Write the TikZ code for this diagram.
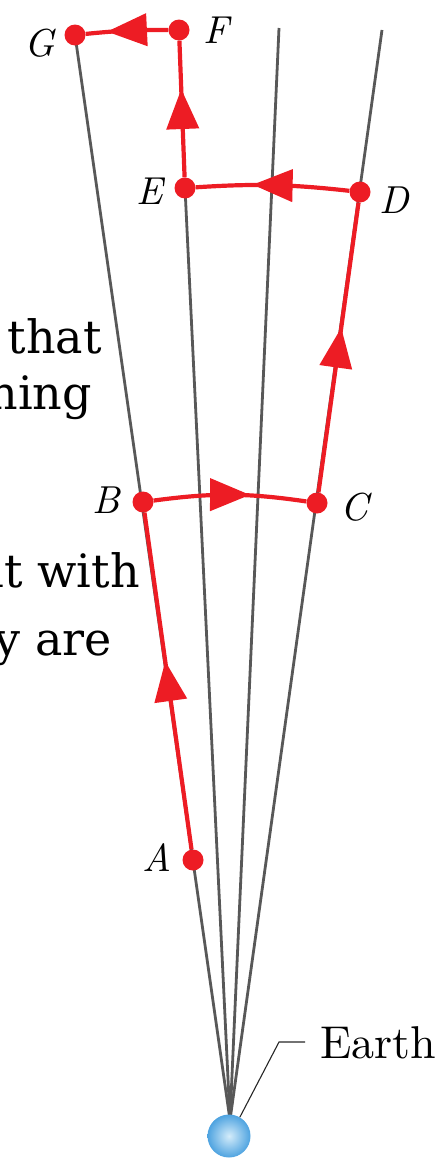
\documentclass[tikz,border=0pt]{standalone}
\usepackage{fontspec}
\setmainfont{lmroman10-regular.otf}[ItalicFont=lmroman10-italic.otf]
\newfontfamily\fragfont{DejaVu Serif}
\usetikzlibrary{decorations.markings,arrows.meta}
\definecolor{pathred}{RGB}{237,28,36}
\definecolor{raygray}{RGB}{88,88,88}
\definecolor{earthin}{RGB}{212,236,250}
\definecolor{earthout}{RGB}{78,163,224}
\tikzset{
  ray/.style={raygray, line width=2.8pt},
  route/.style={pathred, line width=4.2pt, postaction={decorate},
    decoration={markings, mark=at position 0.5 with {\arrow[xshift=20pt]{Triangle[length=40pt,width=32pt]}}}},
  dot/.style={circle, fill=pathred, inner sep=0pt, minimum size=21pt},
  ptlabel/.style={inner sep=0pt, font=\itshape\fontsize{39}{44}\selectfont},
  frag/.style={inner sep=0pt, anchor=base east, font=\fragfont\fontsize{46}{52}\selectfont},
  earthball/.style={circle, inner sep=0pt, minimum size=43pt, inner color=earthin, outer color=earthout},
  leader/.style={black!85, line width=1.1pt},
}
\begin{document}
\begin{tikzpicture}[x=1pt,y=1pt]
\useasboundingbox (0,0) rectangle (442,-1159);
% positions
\coordinate (apex) at (230,-1120);
\coordinate (pG) at (75,-35);
\coordinate (pF) at (179,-30);
\coordinate (pE) at (185,-188);
\coordinate (pD) at (360,-192);
\coordinate (pC) at (317,-503);
\coordinate (pB) at (143,-502);
\coordinate (pA) at (193,-860);
\coordinate (top3) at (279,-28);
\coordinate (top4) at (382,-30);
% rays
\draw[ray] (apex) -- (pG);
\draw[ray] (apex) -- (pE);
\draw[ray] (apex) -- (top3);
\draw[ray] (apex) -- (top4);
% earth
\node[earthball] (earth) at (229,-1136) {};
\coordinate (lbend) at (279,-1042);
\coordinate (lend) at (305,-1042);
\draw[leader] (earth.60) -- (lbend) -- (lend);
\node[inner sep=0pt, anchor=base west, font=\fontsize{46}{52}\selectfont] (earthlabel) at (320,-1058) {Earth};
% dots
\node[dot] (A) at (pA) {};
\node[dot] (B) at (pB) {};
\node[dot] (C) at (pC) {};
\node[dot] (D) at (pD) {};
\node[dot] (E) at (pE) {};
\node[dot] (F) at (pF) {};
\node[dot] (G) at (pG) {};
% route
\draw[route] (A) -- (B);
\draw[route] (B) to[bend left=8] (C);
\draw[route] (C) -- (D);
\draw[route] (D) to[bend right=5] (E);
\draw[route] (E) -- (F);
\draw[route] (F) to[bend right=3] (G);
% labels
\node[ptlabel] (lA) at (157,-858) {A};
\node[ptlabel] (lB) at (106,-500) {B};
\node[ptlabel] (lC) at (354,-507) {C};
\node[ptlabel] (lD) at (394,-200) {D};
\node[ptlabel] (lE) at (150,-191) {E};
\node[ptlabel] (lF) at (216,-30) {F};
\node[ptlabel] (lG) at (40,-43) {G};
% cut-off text fragments
\node[frag] (t1) at (102,-353) {that};
\node[frag] (t2) at (92,-409) {thing};
\node[frag] (t3) at (140,-587) {it with};
\node[frag] (t4) at (112,-655) {they are};
\end{tikzpicture}
\end{document}
